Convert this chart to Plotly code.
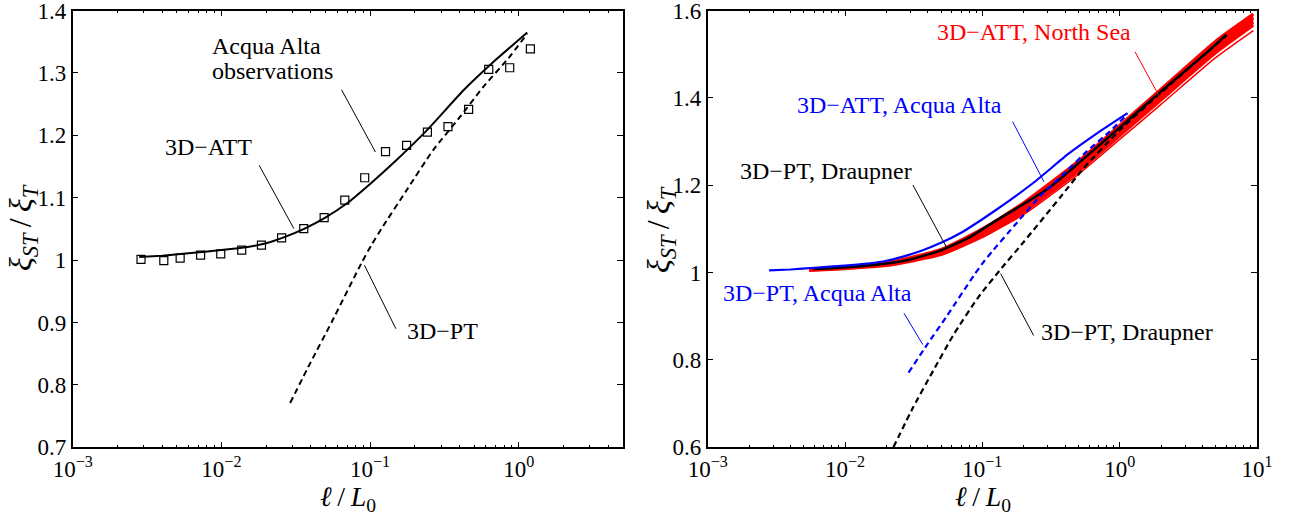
import plotly.graph_objects as go

# ---------------- data ----------------
# Left panel: Acqua Alta observations (squares)
obs_x = [0.00288, 0.0041, 0.00528, 0.00725, 0.0099, 0.0137, 0.0186, 0.0254, 0.0358, 0.0491,
         0.0676, 0.092, 0.127, 0.176, 0.243, 0.334, 0.460, 0.628, 0.869, 1.197]
obs_y = [1.001, 0.999, 1.003, 1.008, 1.010, 1.016, 1.024, 1.0355, 1.0506, 1.068,
         1.096, 1.132, 1.174, 1.184, 1.205, 1.214, 1.2415, 1.3056, 1.3083, 1.3387]

# 3D-ATT, Acqua Alta (solid)
att_aa_x = [0.0028, 0.004, 0.006, 0.01, 0.015, 0.02, 0.026, 0.036, 0.05, 0.07, 0.1, 0.15,
            0.25, 0.42, 0.7, 1.14]
att_aa_y = [1.005, 1.007, 1.011, 1.016, 1.021, 1.027, 1.036, 1.050, 1.068, 1.091, 1.122, 1.160,
            1.212, 1.271, 1.321, 1.365]

# 3D-PT, Acqua Alta (dashed)
pt_aa_x = [0.029, 0.04, 0.055, 0.0874, 0.102, 0.119, 0.176, 0.265, 0.401, 0.574, 0.846, 1.14]
pt_aa_y = [0.771, 0.837, 0.900, 0.995, 1.024, 1.050, 1.112, 1.176, 1.229, 1.277, 1.3227, 1.3627]

# Right panel: Draupner curves
dr_solid_x = [0.0059, 0.01, 0.02, 0.03, 0.05, 0.08, 0.12, 0.2, 0.31, 0.5, 1.0, 2.0, 4.0, 6.0]
dr_solid_y = [1.008, 1.012, 1.021, 1.030, 1.051, 1.080, 1.115, 1.157, 1.195, 1.250, 1.332,
              1.415, 1.495, 1.545]

dr_pt_x = [0.0225, 0.0314, 0.044, 0.0615, 0.0936, 0.138, 0.2, 0.368, 0.544, 1.0, 2.0, 4.0, 6.0]
dr_pt_y = [0.600, 0.692, 0.776, 0.857, 0.944, 1.010, 1.070, 1.172, 1.238, 1.326, 1.412, 1.495,
           1.543]

# 3D-ATT, North Sea (bundle of red curves)
ns_x = [0.0055, 0.01, 0.02, 0.05, 0.1, 0.2, 0.5, 1.0, 2.0, 5.0, 9.4]
ns_a = [1.008, 1.013, 1.022, 1.053, 1.100, 1.160, 1.255, 1.337, 1.420, 1.530, 1.592]
ns_b = [1.007, 1.011, 1.020, 1.049, 1.094, 1.152, 1.247, 1.329, 1.412, 1.521, 1.583]
ns_c = [1.006, 1.010, 1.018, 1.045, 1.088, 1.145, 1.240, 1.321, 1.404, 1.512, 1.574]
ns_d = [1.005, 1.009, 1.016, 1.041, 1.082, 1.138, 1.232, 1.313, 1.395, 1.503, 1.566]
ns_low_x = [0.1, 0.2, 0.5, 1.0, 2.0, 5.0, 9.4]
ns_low_y = [1.080, 1.133, 1.225, 1.305, 1.385, 1.492, 1.554]

# leader lines (data coordinates, start -> end)
lead_left = [([0.0643, 0.1087], [1.273, 1.1732]),
             ([0.01795, 0.0307], [1.1519, 1.0506]),
             ([0.0917, 0.149], [0.9917, 0.890])]
lead_right = [([1.294, 1.968], [1.5054, 1.4003], "red"),
              ([0.166, 0.2813], [1.3457, 1.2077], "blue"),
              ([0.03123, 0.0551], [1.2004, 1.0565], "black"),
              ([0.0269, 0.0368], [0.9068, 0.8353], "blue"),
              ([0.1359, 0.2364], [0.9975, 0.8559], "black")]

# ---------------- layout constants ----------------
W, H = 1298, 516
FONT = "Liberation Serif, Times New Roman, serif"
RED, BLUE, BLACK = "rgb(255,0,0)", "rgb(0,0,255)", "black"


def px(xp):
    return xp / W


def py(yp):
    return 1 - yp / H


fig = go.Figure()
SM = dict(shape="spline", smoothing=0.5)
SM_LOW = dict(shape="spline", smoothing=0.3)

# ---- left panel ----
fig.add_trace(go.Scatter(x=pt_aa_x, y=pt_aa_y, mode="lines",
                         line=dict(color=BLACK, width=2, dash="6px,4px", **SM),
                         xaxis="x", yaxis="y", hoverinfo="skip"))
fig.add_trace(go.Scatter(x=att_aa_x, y=att_aa_y, mode="lines",
                         line=dict(color=BLACK, width=2, **SM_LOW),
                         xaxis="x", yaxis="y", hoverinfo="skip"))
fig.add_trace(go.Scatter(x=obs_x, y=obs_y, mode="markers",
                         marker=dict(symbol="square-open", size=8, color=BLACK,
                                     line=dict(width=1.2, color=BLACK)),
                         xaxis="x", yaxis="y", hoverinfo="skip"))
for lx, ly in lead_left:
    fig.add_trace(go.Scatter(x=lx, y=ly, mode="lines", line=dict(color=BLACK, width=1),
                             xaxis="x", yaxis="y", hoverinfo="skip"))

# ---- right panel ----
fig.add_trace(go.Scatter(x=ns_x, y=ns_d, mode="lines", line=dict(color=RED, width=3, **SM),
                         xaxis="x2", yaxis="y2", hoverinfo="skip"))
fig.add_trace(go.Scatter(x=ns_x, y=ns_a, mode="lines", line=dict(color=RED, width=3, **SM),
                         fill="tonexty", fillcolor=RED,
                         xaxis="x2", yaxis="y2", hoverinfo="skip"))
for ys in (ns_c, ns_b):
    fig.add_trace(go.Scatter(x=ns_x, y=ys, mode="lines", line=dict(color=RED, width=3, **SM),
                             xaxis="x2", yaxis="y2", hoverinfo="skip"))
fig.add_trace(go.Scatter(x=ns_low_x, y=ns_low_y, mode="lines",
                         line=dict(color=RED, width=1.5, **SM),
                         xaxis="x2", yaxis="y2", hoverinfo="skip"))
fig.add_trace(go.Scatter(x=dr_solid_x, y=dr_solid_y, mode="lines",
                         line=dict(color=BLACK, width=2.5, **SM),
                         xaxis="x2", yaxis="y2", hoverinfo="skip"))
fig.add_trace(go.Scatter(x=dr_pt_x, y=dr_pt_y, mode="lines",
                         line=dict(color=BLACK, width=2.2, dash="6px,4px", **SM),
                         xaxis="x2", yaxis="y2", hoverinfo="skip"))
fig.add_trace(go.Scatter(x=att_aa_x, y=att_aa_y, mode="lines",
                         line=dict(color=BLUE, width=2.2, **SM_LOW),
                         xaxis="x2", yaxis="y2", hoverinfo="skip"))
fig.add_trace(go.Scatter(x=pt_aa_x, y=pt_aa_y, mode="lines",
                         line=dict(color=BLUE, width=2.2, dash="6px,4px", **SM),
                         xaxis="x2", yaxis="y2", hoverinfo="skip"))
for lx, ly, c in lead_right:
    fig.add_trace(go.Scatter(x=lx, y=ly, mode="lines", line=dict(color=c, width=1),
                             xaxis="x2", yaxis="y2", hoverinfo="skip"))

# ---------------- axes ----------------
def minor_vals(lo, hi):
    vals = []
    for e in range(lo, hi):
        for m in range(2, 10):
            vals.append(m * 10.0 ** e)
    return vals


sup = {-3: "−3", -2: "−2", -1: "−1", 0: "0", 1: "1"}
common_axis = dict(showline=True, linecolor=BLACK, linewidth=1.5, mirror="allticks",
                   ticks="inside", ticklen=6, tickwidth=1, tickcolor=BLACK,
                   showgrid=False, zeroline=False, automargin=False,
                   ticklabeloverflow="allow",
                   tickfont=dict(family=FONT, size=23, color=BLACK))

ydom = [py(447.3), py(10.5)]

fig.update_layout(
    xaxis=dict(type="log", domain=[px(72.7), px(622.7)], range=[-3, 0.69897],
               tickvals=[1e-3, 1e-2, 1e-1, 1e0],
               ticktext=[f"10<sup>{sup[e]}</sup>" for e in (-3, -2, -1, 0)],
               minor=dict(tickmode="array", tickvals=minor_vals(-3, 1), ticks="inside",
                          ticklen=3, tickcolor=BLACK, showgrid=False),
               anchor="y", **common_axis),
    yaxis=dict(domain=ydom, range=[0.6999, 1.4001],
               tickvals=[0.7, 0.8, 0.9, 1.0, 1.1, 1.2, 1.3, 1.4],
               ticktext=["0.7", "0.8", "0.9", "1", "1.1", "1.2", "1.3", "1.4"],
               anchor="x", **common_axis),
    xaxis2=dict(type="log", domain=[px(707.7), px(1257)], range=[-3, 1],
                tickvals=[1e-3, 1e-2, 1e-1, 1e0, 1e1],
                ticktext=[f"10<sup>{sup[e]}</sup>" for e in (-3, -2, -1, 0, 1)],
                minor=dict(tickmode="array", tickvals=minor_vals(-3, 1), ticks="inside",
                           ticklen=3, tickcolor=BLACK, showgrid=False),
                anchor="y2", **common_axis),
    yaxis2=dict(domain=ydom, range=[0.5999, 1.6001],
                tickvals=[0.6, 0.8, 1.0, 1.2, 1.4, 1.6],
                ticktext=["0.6", "0.8", "1", "1.2", "1.4", "1.6"],
                anchor="x2", **common_axis),
)

# ---------------- text ----------------
ann = []


def label(text, xc, yc, color=BLACK, size=24, xanchor="center", angle=0):
    ann.append(dict(text=text, x=px(xc), y=py(yc), xref="paper", yref="paper",
                    showarrow=False, xanchor=xanchor, yanchor="middle", textangle=angle,
                    font=dict(family=FONT, size=size, color=color)))


# left panel labels
label("Acqua Alta", 209.5, 46, xanchor="left")
label("observations", 209.5, 71, xanchor="left")
label("3D−ATT", 208, 147)
label("3D−PT", 442.5, 331)
# right panel labels
label("3D−ATT, North Sea", 1033.5, 32, color=RED)
label("3D−ATT, Acqua Alta", 899, 105, color=BLUE)
label("3D−PT, Draupner", 825.6, 171)
label("3D−PT, Acqua Alta", 818, 293, color=BLUE)
label("3D−PT, Draupner", 1126.5, 332)

# axis titles
TS = "\u2009"
ytitle = f"<i>ξ</i><sub><i>ST</i></sub>{TS}/{TS}<i>ξ</i><sub><i>T</i></sub>"
xtitle = f"<i>ℓ</i>{TS}/{TS}<i>L</i><sub>0</sub>"
label(ytitle, 22, 228, size=32, angle=-90)
label(ytitle, 660, 230, size=32, angle=-90)
label(xtitle, 348, 498, size=28)
label(xtitle, 983, 498, size=28)

fig.update_layout(annotations=ann, width=W, height=H, showlegend=False,
                  margin=dict(l=0, r=0, t=0, b=0, autoexpand=False),
                  paper_bgcolor="white", plot_bgcolor="white",
                  font=dict(family=FONT, color=BLACK))

fig.write_html("out.html", config={"displayModeBar": False},
               post_script="document.body.style.margin='0';")
